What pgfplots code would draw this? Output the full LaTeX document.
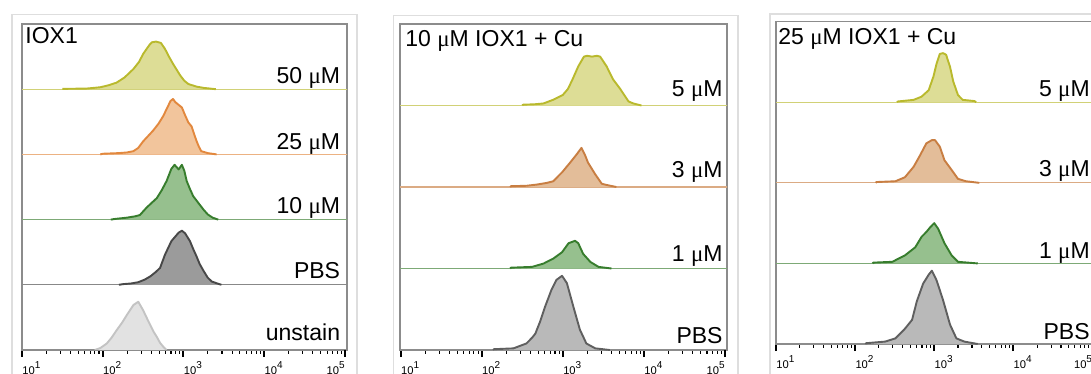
\documentclass[border=0pt]{standalone}
\usepackage{pgfplots}
\pgfplotsset{compat=1.18}
\usepackage{fontspec}
\setmainfont{Liberation Sans}
\newfontfamily\symfont{Liberation Serif}
\newcommand{\uM}{{\symfont μ}M}
\definecolor{ylL}{RGB}{185,185,45}
\definecolor{ylF}{RGB}{221,221,150}
\definecolor{orL}{RGB}{226,136,62}
\definecolor{orF}{RGB}{242,197,156}
\definecolor{or2L}{RGB}{200,126,66}
\definecolor{or2F}{RGB}{227,189,153}
\definecolor{grL}{RGB}{55,125,45}
\definecolor{grF}{RGB}{150,192,142}
\definecolor{dgL}{RGB}{72,72,72}
\definecolor{dgF}{RGB}{155,155,155}
\definecolor{dg2L}{RGB}{95,95,95}
\definecolor{dg2F}{RGB}{185,185,185}
\definecolor{lgL}{RGB}{195,195,195}
\definecolor{lgF}{RGB}{226,226,226}
\newcommand{\lbl}{\fontsize{11.5}{13}\selectfont}
\newcommand{\tl}[1]{\fontsize{5.6}{6}\selectfont 10\raisebox{3.1pt}{\fontsize{5}{5}\selectfont #1}}
\pgfplotsset{
  flow/.style={
    scale only axis, anchor=south west, ymin=0, ytick=\empty,
    xtick={1,2,3,4},
    xticklabels={\tl{1},\tl{2},\tl{3},\tl{4}},
    extra x ticks={5}, extra x tick labels={\tl{5}},
    extra x tick style={xticklabel style={anchor=north east}},
    minor xtick={1.301,1.477,1.602,1.699,1.778,1.845,1.903,1.954,
                 2.301,2.477,2.602,2.699,2.778,2.845,2.903,2.954,
                 3.301,3.477,3.602,3.699,3.778,3.845,3.903,3.954,
                 4.301,4.477,4.602,4.699,4.778,4.845,4.903,4.954},
    xtick pos=left, tick align=outside,
    major tick length=3.5pt, minor tick length=1.8pt,
    every major tick/.append style={line width=1pt, black},
    every minor tick/.append style={line width=0.55pt, black},
    axis line style={draw=black!45, line width=0.6pt},
    xticklabel style={anchor=north west, inner sep=0pt, yshift=-2pt},
  },
  hist/.style 2 args={draw=#1, fill=#2, line width=0.95pt, line join=round},
  base/.style={draw=#1!65, line width=0.55pt},
}
\begin{document}
\begin{tikzpicture}[x=0.5pt,y=0.5pt]
\path[use as bounding box] (0,0) rectangle (1091,374);
\clip (0,0) rectangle (1091,374);
\draw[black!13, line width=0.6pt] (12,-20) rectangle (357,359.3);
\draw[black!13, line width=0.6pt] (393.3,-20) rectangle (738,358.3);
\draw[black!13, line width=0.6pt] (770,-20) rectangle (1130,360);

% ---------------- Panel 1 ----------------
\begin{axis}[flow, at={(11pt,12pt)}, width=162.5pt, height=163pt, xmin=1, xmax=5.025, ymax=5]
\addplot[base=dgL] coordinates {(1,1) (5.05,1)};
\addplot[base=grL] coordinates {(1,2) (5.05,2)};
\addplot[base=orL] coordinates {(1,3) (5.05,3)};
\addplot[base=ylL] coordinates {(1,4) (5.05,4)};
\addplot[hist={lgL}{lgF}] coordinates {(1.9,0) (1.97,0.03) (2.05,0.1) (2.11,0.19) (2.17,0.3) (2.24,0.42) (2.3,0.54) (2.38,0.69) (2.44,0.74) (2.5,0.61) (2.55,0.48) (2.59,0.38) (2.63,0.28) (2.67,0.2) (2.71,0.11) (2.75,0.05) (2.79,0)};
\addplot[hist={dgL}{dgF}, y filter/.expression={y+1}] coordinates {(2.2,0) (2.25,0.01) (2.35,0.02) (2.44,0.04) (2.52,0.08) (2.59,0.13) (2.66,0.2) (2.71,0.26) (2.77,0.46) (2.85,0.67) (2.94,0.8) (2.98,0.83) (3.02,0.79) (3.08,0.67) (3.12,0.55) (3.16,0.44) (3.2,0.32) (3.25,0.21) (3.3,0.11) (3.35,0.05) (3.42,0.02) (3.47,0)};
\addplot[hist={grL}{grF}, y filter/.expression={y+2}] coordinates {(2.1,0) (2.15,0.01) (2.3,0.03) (2.4,0.05) (2.46,0.07) (2.54,0.18) (2.6,0.25) (2.67,0.33) (2.73,0.45) (2.79,0.59) (2.85,0.78) (2.89,0.84) (2.94,0.77) (2.98,0.84) (3.01,0.75) (3.04,0.59) (3.08,0.47) (3.12,0.36) (3.2,0.23) (3.25,0.15) (3.3,0.08) (3.36,0.03) (3.43,0)};
\addplot[hist={orL}{orF}, y filter/.expression={y+3}] coordinates {(1.97,0) (2.0,0.01) (2.2,0.02) (2.3,0.03) (2.38,0.05) (2.44,0.1) (2.5,0.2) (2.56,0.28) (2.62,0.36) (2.69,0.47) (2.75,0.59) (2.8,0.72) (2.84,0.82) (2.87,0.85) (2.9,0.8) (2.93,0.77) (2.98,0.72) (3.02,0.6) (3.06,0.49) (3.1,0.43) (3.13,0.32) (3.16,0.21) (3.19,0.12) (3.22,0.05) (3.3,0.02) (3.41,0)};
\addplot[hist={ylL}{ylF}, y filter/.expression={y+4}] coordinates {(1.5,0.005) (1.8,0.01) (1.97,0.03) (2.07,0.06) (2.17,0.1) (2.27,0.18) (2.38,0.31) (2.45,0.42) (2.5,0.54) (2.55,0.63) (2.585,0.69) (2.61,0.72) (2.66,0.73) (2.72,0.71) (2.77,0.62) (2.82,0.5) (2.87,0.39) (2.92,0.29) (2.96,0.21) (3.01,0.13) (3.06,0.08) (3.16,0.04) (3.25,0.02) (3.33,0.01) (3.4,0)};
\node[anchor=north west, inner sep=0, font=\lbl] at (rel axis cs:0,1) [xshift=1.5pt, yshift=-1.35pt] {IOX1};
\node[anchor=base east, inner sep=0, font=\lbl] at (axis cs:4.944,4.09) {50 \uM};
\node[anchor=base east, inner sep=0, font=\lbl] at (axis cs:4.944,3.08) {25 \uM};
\node[anchor=base east, inner sep=0, font=\lbl] at (axis cs:4.944,2.095) {10 \uM};
\node[anchor=base east, inner sep=0, font=\lbl] at (axis cs:4.944,1.1) {PBS};
\node[anchor=base east, inner sep=0, font=\lbl] at (axis cs:4.944,0.15) {unstain};
\end{axis}

% ---------------- Panel 2 ----------------
\begin{axis}[flow, at={(200pt,12pt)}, width=163.5pt, height=163pt, xmin=0.991, xmax=5.025, ymax=4]
\addplot[base=grL] coordinates {(0.99,1) (5.05,1)};
\addplot[base=or2L] coordinates {(0.99,2) (5.05,2)};
\addplot[base=ylL] coordinates {(0.99,3) (5.05,3)};
\addplot[hist={dg2L}{dg2F}] coordinates {(2.14,0) (2.15,0.01) (2.39,0.02) (2.55,0.08) (2.62,0.15) (2.66,0.2) (2.72,0.35) (2.78,0.53) (2.86,0.74) (2.92,0.86) (2.99,0.91) (3.05,0.82) (3.13,0.53) (3.21,0.25) (3.29,0.08) (3.4,0.02) (3.58,0)};
\addplot[hist={grL}{grF}, y filter/.expression={y+1}] coordinates {(2.35,0) (2.36,0.01) (2.62,0.02) (2.76,0.06) (2.88,0.12) (2.99,0.2) (3.07,0.31) (3.15,0.34) (3.19,0.31) (3.25,0.18) (3.34,0.08) (3.44,0.02) (3.6,0)};
\addplot[hist={or2L}{or2F}, y filter/.expression={y+2}] coordinates {(2.35,0) (2.36,0.01) (2.55,0.015) (2.68,0.03) (2.8,0.05) (2.88,0.07) (2.99,0.18) (3.09,0.3) (3.17,0.4) (3.23,0.48) (3.27,0.4) (3.31,0.3) (3.4,0.155) (3.48,0.04) (3.54,0.025) (3.66,0)};
\addplot[hist={ylL}{ylF}, y filter/.expression={y+3}] coordinates {(2.5,0) (2.51,0.01) (2.65,0.015) (2.76,0.025) (2.88,0.07) (3.0,0.13) (3.06,0.2) (3.11,0.3) (3.19,0.48) (3.26,0.6) (3.3,0.61) (3.36,0.6) (3.42,0.61) (3.46,0.6) (3.54,0.48) (3.62,0.32) (3.71,0.2) (3.81,0.05) (3.87,0.025) (3.97,0)};
\node[anchor=north west, inner sep=0, font=\lbl] at (rel axis cs:0,1) [xshift=2.5pt, yshift=-3pt] {10 \uM\ IOX1 + Cu};
\node[anchor=base east, inner sep=0, font=\lbl] at (axis cs:4.975,3.11) {5 \uM};
\node[anchor=base east, inner sep=0, font=\lbl] at (axis cs:4.975,2.12) {3 \uM};
\node[anchor=base east, inner sep=0, font=\lbl] at (axis cs:4.975,1.08) {1 \uM};
\node[anchor=base east, inner sep=0, font=\lbl] at (axis cs:4.975,0.08) {PBS};
\end{axis}

% ---------------- Panel 3 ----------------
\begin{axis}[flow, at={(388pt,15pt)}, width=159.4pt, height=161.15pt, xmin=1, xmax=5.03, ymax=4]
\addplot[base=grL] coordinates {(1,1) (5.05,1)};
\addplot[base=or2L] coordinates {(1,2) (5.05,2)};
\addplot[base=ylL] coordinates {(1,3) (5.05,3)};
\addplot[hist={dg2L}{dg2F}] coordinates {(2.13,0) (2.14,0.01) (2.38,0.03) (2.51,0.07) (2.63,0.19) (2.72,0.3) (2.78,0.53) (2.86,0.75) (2.93,0.86) (2.97,0.91) (3.03,0.79) (3.11,0.55) (3.2,0.24) (3.28,0.07) (3.38,0.03) (3.55,0)};
\addplot[hist={grL}{grF}, y filter/.expression={y+1}] coordinates {(2.22,0) (2.23,0.01) (2.47,0.02) (2.63,0.1) (2.76,0.2) (2.84,0.33) (2.9,0.39) (2.95,0.45) (3.0,0.5) (3.05,0.43) (3.13,0.25) (3.22,0.1) (3.3,0.02) (3.55,0)};
\addplot[hist={or2L}{or2F}, y filter/.expression={y+2}] coordinates {(2.26,0) (2.27,0.01) (2.51,0.02) (2.63,0.07) (2.74,0.2) (2.82,0.34) (2.9,0.49) (2.97,0.53) (3.01,0.53) (3.07,0.45) (3.13,0.28) (3.22,0.16) (3.3,0.05) (3.4,0.02) (3.57,0)};
\addplot[hist={ylL}{ylF}, y filter/.expression={y+3}] coordinates {(2.53,0) (2.54,0.01) (2.74,0.03) (2.84,0.07) (2.93,0.15) (2.99,0.32) (3.03,0.48) (3.07,0.6) (3.11,0.61) (3.15,0.59) (3.2,0.44) (3.24,0.26) (3.3,0.09) (3.36,0.03) (3.51,0.015) (3.53,0)};
\node[anchor=north west, inner sep=0, font=\lbl] at (rel axis cs:0,1) [xshift=1pt, yshift=-3.2pt] {25 \uM\ IOX1 + Cu};
\node[anchor=base east, inner sep=0, font=\lbl] at (axis cs:4.97,3.07) {5 \uM};
\node[anchor=base east, inner sep=0, font=\lbl] at (axis cs:4.97,2.075) {3 \uM};
\node[anchor=base east, inner sep=0, font=\lbl] at (axis cs:4.97,1.06) {1 \uM};
\node[anchor=base east, inner sep=0, font=\lbl] at (axis cs:4.97,0.05) {PBS};
\end{axis}
\end{tikzpicture}
\end{document}
